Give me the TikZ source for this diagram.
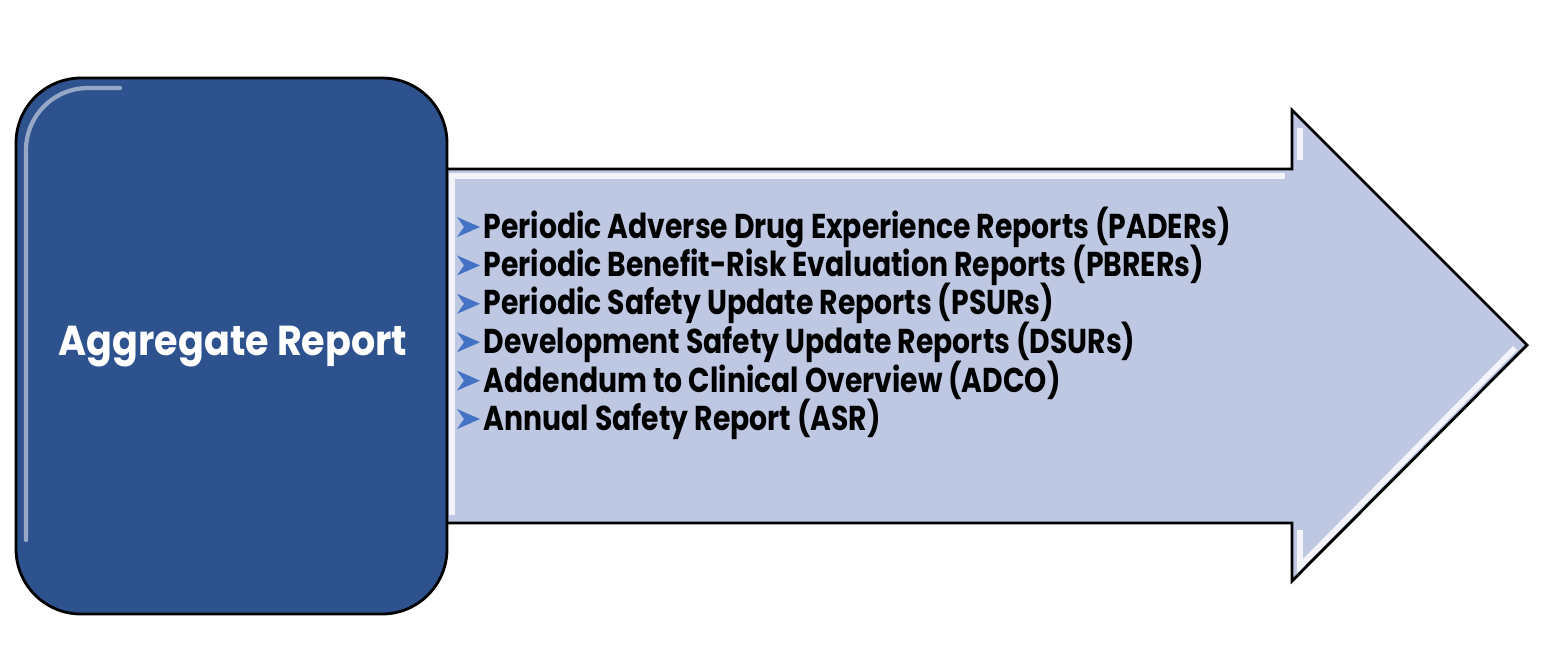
\documentclass[tikz,border=0pt]{standalone}
\usepackage{fontspec}
\setmainfont{Poppins}
\definecolor{boxblue}{HTML}{2E528E}
\definecolor{arrowfill}{HTML}{BFC8E3}
\definecolor{bulletblue}{HTML}{4472C4}
\newcommand{\squeezed}[2]{\scalebox{#1}[1]{#2}}
\begin{document}
\begin{tikzpicture}[x=0.01cm,y=-0.01cm,
  listitem/.style={anchor=west,inner sep=0pt,font=\fontsize{9.8}{12}\selectfont\bfseries,text=black},
  bigbox/.style={draw=black,line width=0.8pt,fill=boxblue,rounded corners=0.65cm},
  arrowshape/.style={draw=black,line width=0.8pt,fill=arrowfill,line join=miter}]
\useasboundingbox (0,0) rectangle (1543,650);
% arrow
\draw[arrowshape] (440,169) -- (1292,169) -- (1292,110) -- (1527,345) -- (1292,581) -- (1292,523) -- (440,523) -- cycle;
% bevel highlights on arrow
\draw[white,line width=1.6pt,opacity=0.8] (452,523-8) -- (452,176) -- (1285,176);
\draw[white,line width=1.6pt,opacity=0.8] (1300,128) -- (1300,160);
\draw[white,line width=1.6pt,opacity=0.8] (1300,530) -- (1300,566) -- (1515,348);
% box
\draw[bigbox] (16,78) rectangle (447,614);
\draw[white,line width=1.2pt,opacity=0.5,line cap=round] (26,540) -- (26,150) arc (180:270:62) -- (120,88);
\node[font=\fontsize{11.9}{14}\selectfont\bfseries,text=white] (title) at (233,347) {\squeezed{0.91}{Aggregate Report}};
% list
\foreach \i/\txt in {0/{Periodic Adverse Drug Experience Reports (PADERs)},
                     1/{Periodic Benefit-Risk Evaluation Reports (PBRERs)},
                     2/{Periodic Safety Update Reports (PSURs)},
                     3/{Development Safety Update Reports (DSURs)},
                     4/{Addendum to Clinical Overview (ADCO)},
                     5/{Annual Safety Report (ASR)}} {
  \pgfmathsetmacro{\yy}{227+38.4*\i}
  \node[listitem] (item\i) at (483,\yy) {\squeezed{0.82}{\txt}};
  \fill[bulletblue] (457,\yy-10) -- (480,\yy) -- (457,\yy+10) -- (464,\yy) -- cycle;
}
\end{tikzpicture}
\end{document}
